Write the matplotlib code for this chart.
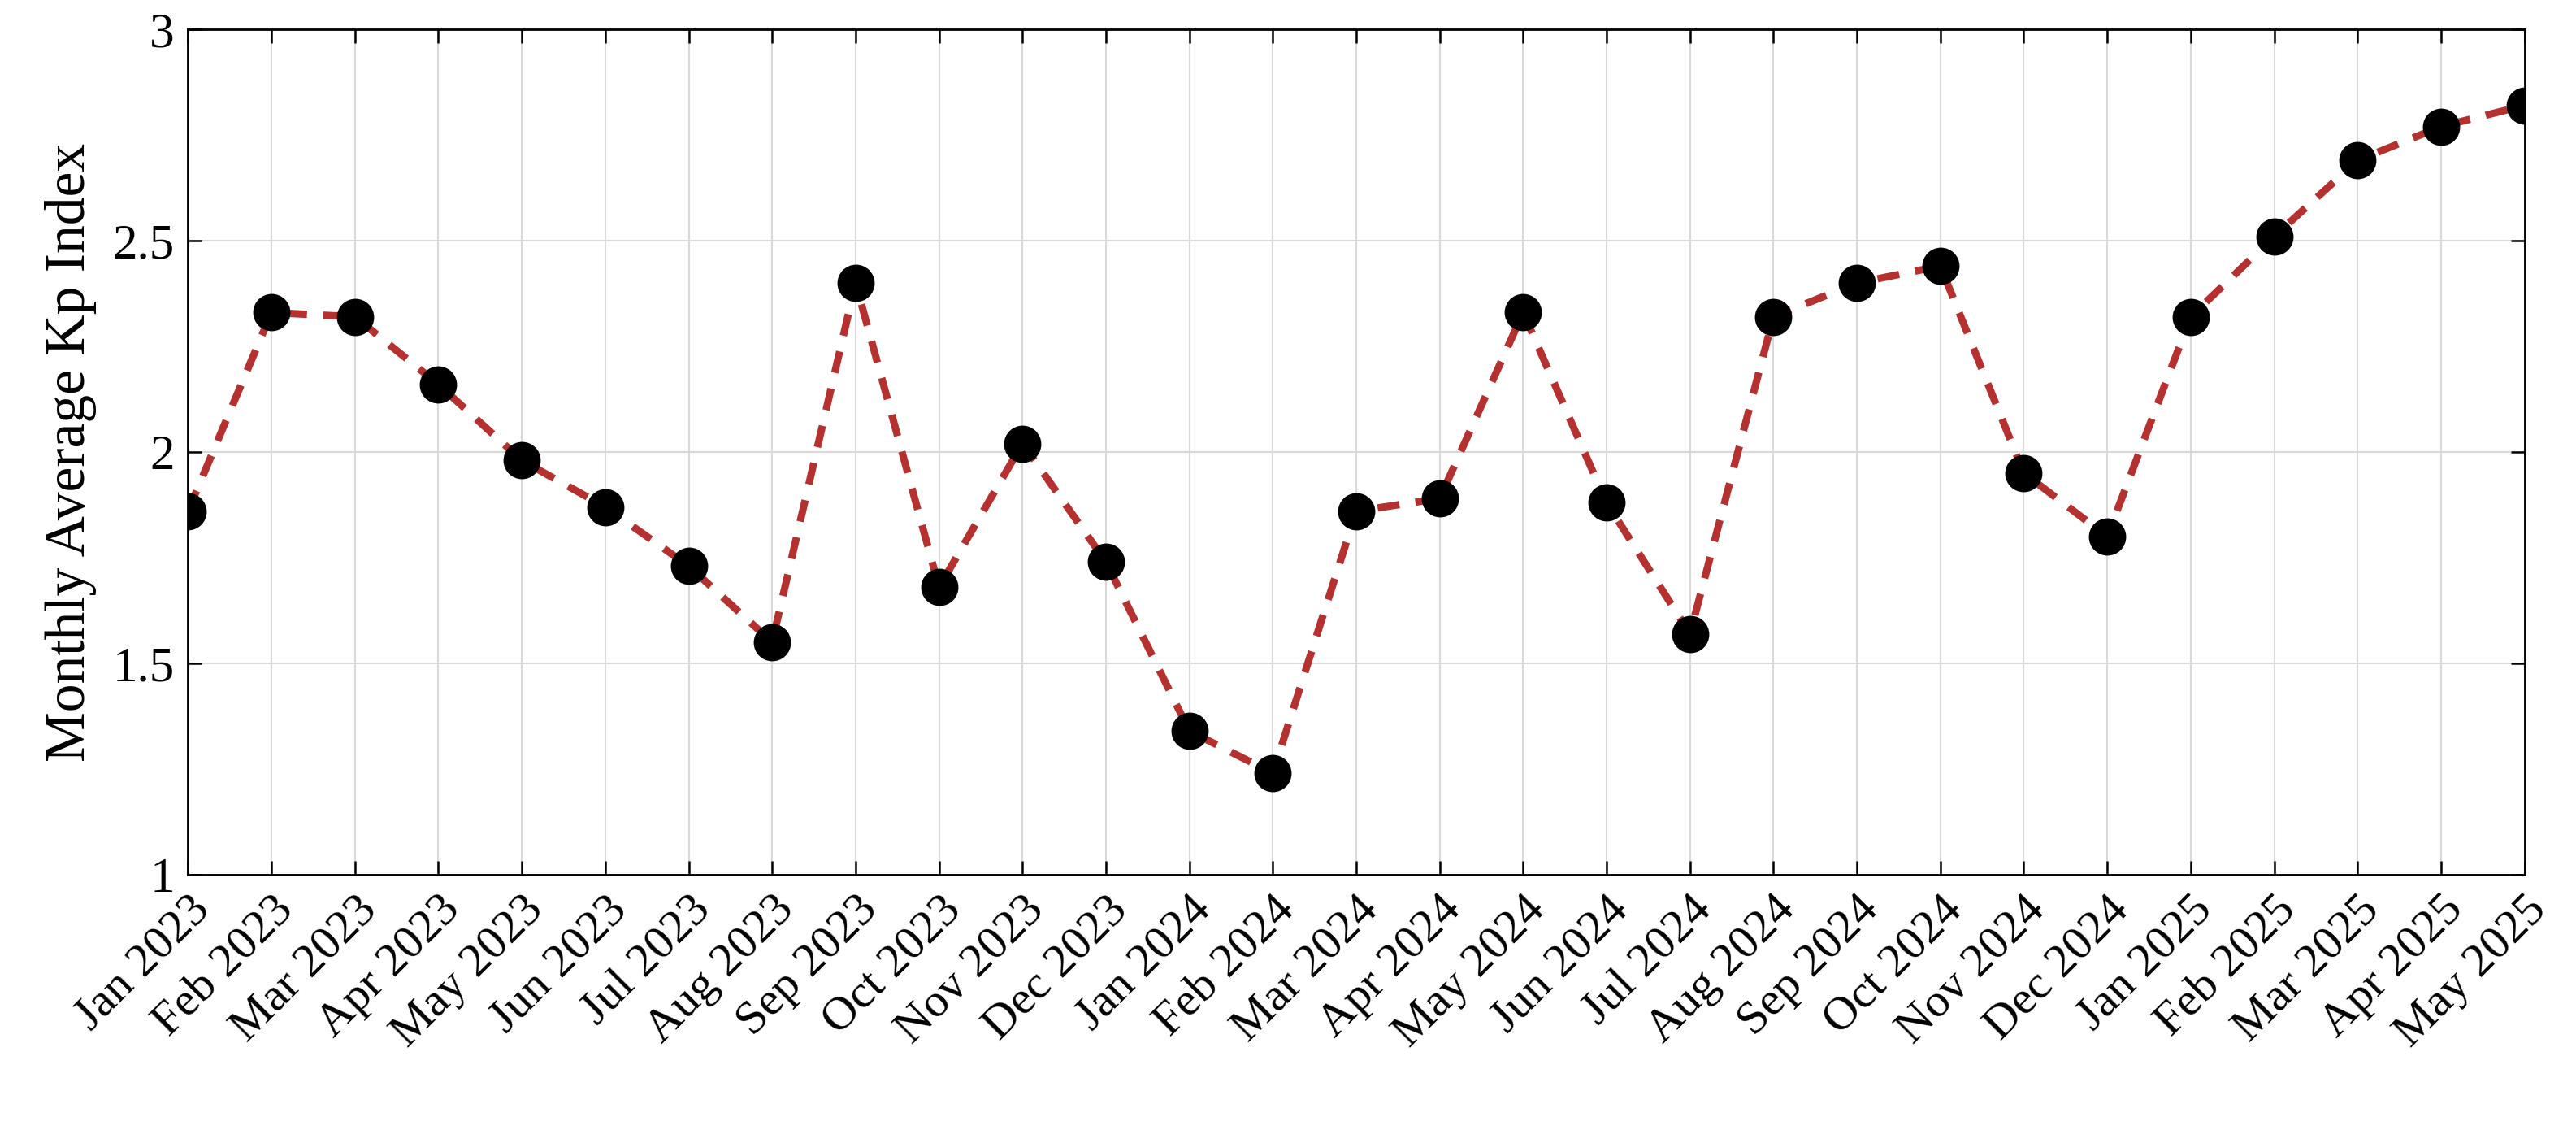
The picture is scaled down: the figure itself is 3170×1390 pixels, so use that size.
import matplotlib
matplotlib.use("Agg")
import matplotlib.pyplot as plt

months = ["Jan 2023","Feb 2023","Mar 2023","Apr 2023","May 2023","Jun 2023","Jul 2023","Aug 2023",
          "Sep 2023","Oct 2023","Nov 2023","Dec 2023","Jan 2024","Feb 2024","Mar 2024","Apr 2024",
          "May 2024","Jun 2024","Jul 2024","Aug 2024","Sep 2024","Oct 2024","Nov 2024","Dec 2024",
          "Jan 2025","Feb 2025","Mar 2025","Apr 2025","May 2025"]
kp = [1.86,2.33,2.32,2.16,1.98,1.87,1.73,1.55,2.40,1.68,2.02,1.74,1.34,1.24,1.86,1.89,
      2.33,1.88,1.57,2.32,2.40,2.44,1.95,1.80,2.32,2.51,2.69,2.77,2.82]
yticks = [1, 1.5, 2, 2.5, 3]
ylabels = ["1", "1.5", "2", "2.5", "3"]

plt.rcParams['font.family'] = ['Liberation Serif', 'DejaVu Serif']
fig = plt.figure(figsize=(31.7, 13.9), dpi=100)
ax = fig.add_axes([0.073, 0.226, 0.907, 0.748])
x = list(range(len(months)))
ax.plot(x, kp, linestyle=(0, (3, 2.2)), color="#b5312f", linewidth=6.5, zorder=2)
ax.plot(x, kp, 'o', color="black", markersize=32, zorder=3)
ax.set_xlim(0, len(months) - 1)
ax.set_ylim(1, 3)
ax.set_xticks(x)
ax.set_xticklabels(months, rotation=45, ha="right", rotation_mode="anchor", fontsize=42)
ax.set_yticks(yticks)
ax.set_yticklabels(ylabels, fontsize=44)
ax.set_ylabel("Monthly Average Kp Index", fontsize=50, labelpad=14)
ax.grid(True, color="#d9d9d9", linewidth=1.5)
ax.set_axisbelow(True)
ax.tick_params(direction="in", length=12, width=1.8, top=True, right=True, pad=12)
for s in ax.spines.values():
    s.set_linewidth(2)
fig.savefig("out.png", dpi=100)
